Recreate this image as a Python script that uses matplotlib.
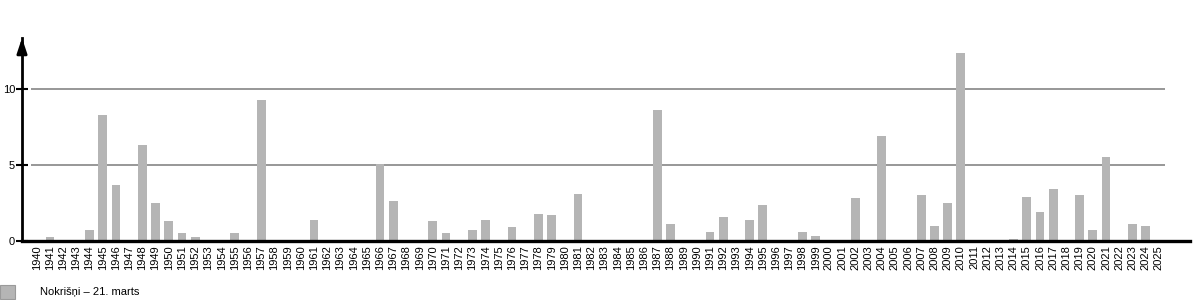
import matplotlib
matplotlib.use("Agg")
import matplotlib.pyplot as plt
from matplotlib.patches import Rectangle

plt.rcParams['font.family'] = ['Liberation Sans', 'DejaVu Sans']

years = list(range(1940, 2026))
values = {
    1941: 0.25, 1944: 0.75, 1945: 8.3, 1946: 3.7, 1948: 6.3, 1949: 2.5,
    1950: 1.3, 1951: 0.5, 1952: 0.25, 1955: 0.5, 1957: 9.3,
    1961: 1.4, 1966: 5.1, 1967: 2.6, 1968: 0.08, 1970: 1.3, 1971: 0.5,
    1973: 0.7, 1974: 1.4, 1976: 0.9, 1978: 1.8, 1979: 1.7, 1981: 3.1,
    1987: 8.6, 1988: 1.1, 1991: 0.6, 1992: 1.6, 1994: 1.4, 1995: 2.4,
    1998: 0.6, 1999: 0.3, 2002: 2.8, 2004: 6.9, 2007: 3.0, 2008: 1.0,
    2009: 2.5, 2010: 12.4, 2011: 0.08, 2012: 0.08, 2014: 0.15, 2015: 2.9,
    2016: 1.9, 2017: 3.4, 2019: 3.0, 2020: 0.7, 2021: 5.5, 2023: 1.1,
    2024: 1.0,
}
precip = [values.get(y, 0.0) for y in years]
yticks = [0, 5, 10]
legend_label = "Nokrišņi – 21. marts"

W, H = 1200, 300
fig = plt.figure(figsize=(12, 3), dpi=100)
ax = fig.add_axes([22 / W, 59 / H, (1190 - 22) / W, (241 - 38) / H])

bar_color = "#b5b5b5"
ax.bar(years, precip, width=0.66, color=bar_color, zorder=3)

ax.set_xlim(1938.88, 2027.36)
ax.set_ylim(0, 13.36)

# gridlines
for v in yticks[1:]:
    ax.hlines(v, 1939.55, 2025.47, color="#7a7a7a", linewidth=1.1, zorder=1)

for s in ["top", "right"]:
    ax.spines[s].set_visible(False)
ax.spines["bottom"].set_linewidth(2.4)
ax.spines["left"].set_linewidth(2.0)
ax.spines["bottom"].set_zorder(4)
ax.spines["left"].set_zorder(4)

# arrow head on y axis
ax.annotate("", xy=(0, 1.0), xycoords="axes fraction", xytext=(0, 0.93),
            textcoords="axes fraction",
            arrowprops=dict(arrowstyle="-|>,head_length=0.9,head_width=0.3",
                            color="black", lw=2.0, shrinkA=0, shrinkB=0),
            annotation_clip=False)

ax.set_yticks(yticks)
ax.set_yticklabels([str(v) for v in yticks], fontsize=8)
ax.tick_params(axis="y", direction="inout", length=8, width=1.5, pad=1)

ax.set_xticks(years)
ax.set_xticklabels([str(y) for y in years], rotation=90, fontsize=8)
ax.tick_params(axis="x", length=0, pad=3)

# legend
fig.add_artist(Rectangle((0 / W, 1 - 299 / H), 15 / W, 14 / H,
                         transform=fig.transFigure, facecolor=bar_color,
                         edgecolor="#9a9a9a", linewidth=0.8))
fig.text(40 / W, 1 - 292 / H, legend_label, fontsize=8, va="center", ha="left")

fig.savefig("out.png", dpi=100)
